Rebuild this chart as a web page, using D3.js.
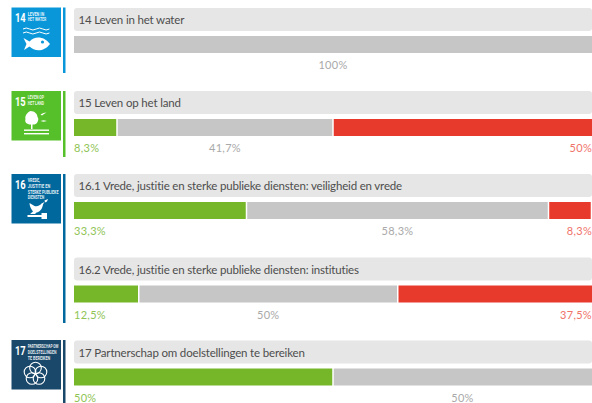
<!DOCTYPE html>
<html><head><meta charset="utf-8">
<script src="https://cdnjs.cloudflare.com/ajax/libs/d3/7.8.5/d3.min.js"></script>
<style>html,body{margin:0;padding:0;background:#fff}svg{display:block}</style></head>
<body><svg id="c" width="592" height="403"></svg>
<script>
const titles = ["14 Leven in het water","15 Leven op het land","16.1 Vrede, justitie en sterke publieke diensten: veiligheid en vrede","16.2 Vrede, justitie en sterke publieke diensten: instituties","17 Partnerschap om doelstellingen te bereiken"];
const positive = [0,8.3,33.3,12.5,50];
const neutral = [100,41.7,58.3,50,50];
const negative = [0,50,8.3,37.5,0];
const positiveLabels = ["","8,3%","33,3%","12,5%","50%"];
const neutralLabels = ["100%","41,7%","58,3%","50%","50%"];
const negativeLabels = ["","50%","8,3%","37,5%",""];
const goalNumbers = ["14","15","16","17"];
const goalNames = [["LEVEN IN","HET WATER"],["LEVEN OP","HET LAND"],["VREDE,","JUSTITIE EN","STERKE PUBLIEKE","DIENSTEN"],["PARTNERSCHAP OM","DOELSTELLINGEN","TE BEREIKEN"]];
const goalColors = ["#0a97d9","#56c02b","#00689d","#19486a"];

const FONT = "Lato, sans-serif";
const svg = d3.select("#c");
const x = d3.scaleLinear().domain([0,100]).range([74,592]);
const rowTop = [8,91,174,257.5,340.5];
const goalTop = [7.5,91,174,340];
const goalEnd = [73,157,323,410];
const segColors = ["#76b729","#c6c6c6","#e8392d"];
const labelColors = ["#8fc455","#a9a9a9","#f0736a"];

titles.forEach((t,i)=>{
  const y = rowTop[i];
  const g = svg.append("g");
  g.append("rect").attr("x",x(0)).attr("y",y).attr("width",x(100)-x(0)).attr("height",23).attr("rx",3).attr("fill","#e6e6e6");
  g.append("text").attr("x",78.5).attr("y",y+16).attr("font-family",FONT).attr("font-size",11.5).attr("letter-spacing",-0.17).attr("fill","#4d4d4d").text(t);
  const vals=[positive[i],neutral[i],negative[i]];
  const labs=[positiveLabels[i],neutralLabels[i],negativeLabels[i]];
  let cum=0;
  vals.forEach((v,k)=>{
    if(!v) return;
    const a=x(cum), b=x(Math.min(100,cum+v));
    const start = cum>0 ? a+0.75 : a, end = cum+v<99.9 ? b-0.75 : b;
    g.append("rect").attr("x",start).attr("y",y+28).attr("width",end-start).attr("height",17).attr("fill",segColors[k]);
    const anchor = k==0?"start":(k==2?"end":"middle");
    const lx = k==0?x(0):(k==2?x(100):(a+b)/2);
    g.append("text").attr("x",lx).attr("y",y+61).attr("text-anchor",anchor).attr("font-family",FONT).attr("font-size",11).attr("letter-spacing",0.3).attr("fill",labelColors[k]).text(labs[k]);
    cum+=v;
  });
});

goalNumbers.forEach((n,i)=>{
  const y=goalTop[i], c=goalColors[i];
  const g=svg.append("g").attr("transform",`translate(11.5,${y})`);
  svg.append("rect").attr("x",63).attr("y",y).attr("width",2.5).attr("height",goalEnd[i]-y).attr("fill",c);
  g.append("rect").attr("width",49.5).attr("height",49.5).attr("fill",c);
  g.append("text").attr("transform","translate(3.5,14.5) scale(0.85,1.12)").attr("font-family","'Liberation Sans Narrow','Roboto',sans-serif").attr("font-weight",700).attr("font-size",11).attr("fill","#fff").text(n);
  const nx=16.2;
  goalNames[i].forEach((s,j)=>{
    g.append("text").attr("x",nx).attr("y",8+j*5.8).attr("font-family","'Roboto',sans-serif").attr("font-weight",700).attr("font-size",4.6).attr("fill","#fff").attr("fill-opacity",0.9).attr("textLength",s.length*2.05).attr("lengthAdjust","spacingAndGlyphs").text(s);
  });
  const ic=g.append("g").attr("fill","#fff").attr("stroke","none");
  const wave=(yy)=>`M11.5 ${yy}q3.3 -2 6.6 0t6.6 0t6.6 0t6.6 0`;
  if(i==0){
    [21.5,25.5].forEach(yy=>ic.append("path").attr("d",wave(yy)).attr("fill","none").attr("stroke","#fff").attr("stroke-width",1));
    ic.append("path").attr("d","M12 30.5 L18 34 C23 28.5 32 28 38.5 36.5 C32 45 23 44 18 39 L12.5 42.5 L15 36.5Z");
    ic.append("circle").attr("cx",31).attr("cy",34.5).attr("r",1.6).attr("fill",c);
  } else if(i==1){
    ic.append("path").attr("d","M19 20 C23 20 26 23 26 26 C28 28 26 33 23 33.5 L21 33.5 L21 38 L19.5 38 L19.5 33.5 C15 33.5 13 31 14 28 C13 25 16 21 19 20Z");
    ic.append("rect").attr("x",12.5).attr("y",38.5).attr("width",25).attr("height",1.4);
    ic.append("rect").attr("x",12.5).attr("y",42).attr("width",25).attr("height",1.4);
    ["M29 23.5l3 -1.5l3 -.5l-2.5 1.5l-2 1.5z","M29 30l3 -.8l3.5 .8l-3.5 .8z"].forEach(d=>ic.append("path").attr("d",d));
  } else if(i==2){
    ic.append("path").attr("d","M18 29 L23 32 C26 33 29 31 30 29.5 L33 28 L31.5 30.5 C31 35 28 38 25 38.5 L23.5 40 L18.5 40 L21.5 37.5 C19.5 35 18 32 18 29Z");
    ic.append("path").attr("d","M33 26.5 l3.5 -1.5 l-1 2.5 l-2 1z");
    ic.append("rect").attr("x",16).attr("y",41).attr("width",19).attr("height",2);
    ic.append("rect").attr("x",30).attr("y",39).attr("width",5.5).attr("height",6);
  } else {
    [[24,28],[29.5,32],[27.5,38.5],[20.5,38.5],[18.5,32]].forEach(p=>ic.append("circle").attr("cx",p[0]).attr("cy",p[1]).attr("r",5.8).attr("fill","none").attr("stroke","#fff").attr("stroke-width",1.1));
  }
});
</script></body></html>
